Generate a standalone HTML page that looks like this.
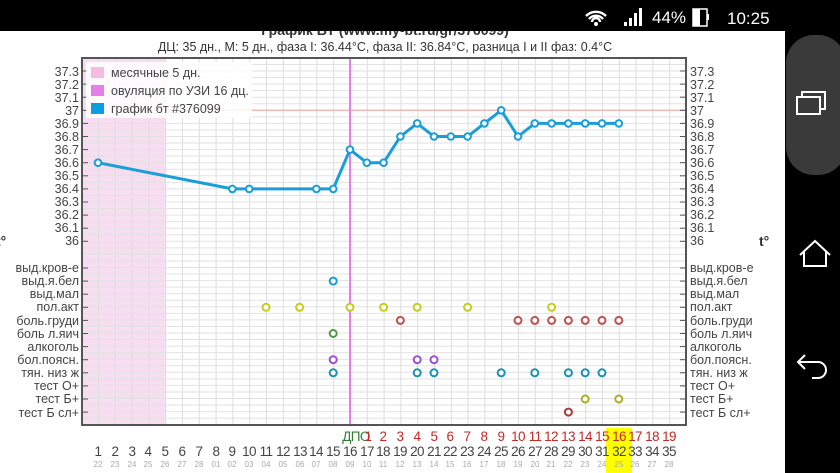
<!DOCTYPE html>
<html><head><meta charset="utf-8"><style>
body{margin:0;width:840px;height:473px;overflow:hidden;background:#fff;font-family:"Liberation Sans",sans-serif}
svg{position:absolute;left:0;top:0}
</style></head><body>
<svg id="s" width="840" height="473" xmlns="http://www.w3.org/2000/svg" font-family="Liberation Sans, sans-serif">
<rect x="0" y="0" width="840" height="473" fill="#fff"/>
<g id="grid"></g>
<text x="385" y="35" text-anchor="middle" font-size="14" font-weight="bold" fill="#333">График БТ (www.my-bt.ru/gr/376099)</text>
<text x="385" y="51" text-anchor="middle" font-size="12.5" fill="#333">ДЦ: 35 дн., М: 5 дн., фаза I: 36.44°C, фаза II: 36.84°C, разница I и II фаз: 0.4°C</text>
<g font-size="12.5" fill="#444" text-anchor="end" id="ll">
<text x="79" y="76">37.3</text><text x="79" y="89">37.2</text><text x="79" y="102">37.1</text><text x="79" y="115">37</text><text x="79" y="128">36.9</text><text x="79" y="141">36.8</text><text x="79" y="154">36.7</text><text x="79" y="167">36.6</text><text x="79" y="180">36.5</text><text x="79" y="193">36.4</text><text x="79" y="206">36.3</text><text x="79" y="219">36.2</text><text x="79" y="232">36.1</text><text x="79" y="245">36</text>
<text x="79" y="272">выд.кров-е</text><text x="79" y="285">выд.я.бел</text><text x="79" y="298">выд.мал</text><text x="79" y="311">пол.акт</text><text x="79" y="325">боль.груди</text><text x="79" y="338">боль л.яич</text><text x="79" y="351">алкоголь</text><text x="79" y="364">бол.поясн.</text><text x="79" y="377">тян. низ ж</text><text x="79" y="390">тест О+</text><text x="79" y="403">тест Б+</text><text x="79" y="417">тест Б сл+</text>
</g>
<g font-size="12.5" fill="#444" text-anchor="start">
<text x="690" y="76">37.3</text><text x="690" y="89">37.2</text><text x="690" y="102">37.1</text><text x="690" y="115">37</text><text x="690" y="128">36.9</text><text x="690" y="141">36.8</text><text x="690" y="154">36.7</text><text x="690" y="167">36.6</text><text x="690" y="180">36.5</text><text x="690" y="193">36.4</text><text x="690" y="206">36.3</text><text x="690" y="219">36.2</text><text x="690" y="232">36.1</text><text x="690" y="245">36</text>
<text x="690" y="272">выд.кров-е</text><text x="690" y="285">выд.я.бел</text><text x="690" y="298">выд.мал</text><text x="690" y="311">пол.акт</text><text x="690" y="325">боль.груди</text><text x="690" y="338">боль л.яич</text><text x="690" y="351">алкоголь</text><text x="690" y="364">бол.поясн.</text><text x="690" y="377">тян. низ ж</text><text x="690" y="390">тест О+</text><text x="690" y="403">тест Б+</text><text x="690" y="417">тест Б сл+</text>
</g>
<text x="-4" y="246" font-size="14" font-weight="bold" fill="#333">t°</text>
<text x="759" y="246" font-size="14" font-weight="bold" fill="#333">t°</text>
<rect x="606" y="428" width="26" height="45" fill="#ffff00"/>
<g font-size="13.5" text-anchor="middle" fill="#c62828" letter-spacing="-0.6">
<text x="356" y="441" fill="#2e7d32">ДПО</text>
<text x="368" y="441">1</text><text x="383" y="441">2</text><text x="400" y="441">3</text><text x="417" y="441">4</text><text x="434" y="441">5</text><text x="450" y="441">6</text><text x="467" y="441">7</text><text x="484" y="441">8</text><text x="501" y="441">9</text><text x="518" y="441">10</text><text x="535" y="441">11</text><text x="551" y="441">12</text><text x="568" y="441">13</text><text x="585" y="441">14</text><text x="602" y="441">15</text><text x="619" y="441">16</text><text x="635" y="441">17</text><text x="652" y="441">18</text><text x="669" y="441">19</text>
</g>
<g font-size="13.5" text-anchor="middle" fill="#444" letter-spacing="-0.6">
<text x="98" y="456">1</text><text x="115" y="456">2</text><text x="132" y="456">3</text><text x="148" y="456">4</text><text x="165" y="456">5</text><text x="182" y="456">6</text><text x="199" y="456">7</text><text x="216" y="456">8</text><text x="232" y="456">9</text><text x="249" y="456">10</text><text x="266" y="456">11</text><text x="283" y="456">12</text><text x="300" y="456">13</text><text x="316" y="456">14</text><text x="333" y="456">15</text><text x="350" y="456">16</text><text x="367" y="456">17</text><text x="383" y="456">18</text><text x="400" y="456">19</text><text x="417" y="456">20</text><text x="434" y="456">21</text><text x="450" y="456">22</text><text x="467" y="456">23</text><text x="484" y="456">24</text><text x="501" y="456">25</text><text x="518" y="456">26</text><text x="535" y="456">27</text><text x="551" y="456">28</text><text x="568" y="456">29</text><text x="585" y="456">30</text><text x="602" y="456">31</text><text x="619" y="456">32</text><text x="635" y="456">33</text><text x="652" y="456">34</text><text x="669" y="456">35</text>
</g>
<g font-size="8" text-anchor="middle" fill="#aaa">
<text x="98" y="467">22</text><text x="115" y="467">23</text><text x="132" y="467">24</text><text x="148" y="467">25</text><text x="165" y="467">26</text><text x="182" y="467">27</text><text x="199" y="467">28</text><text x="216" y="467">01</text><text x="232" y="467">02</text><text x="249" y="467">03</text><text x="266" y="467">04</text><text x="283" y="467">05</text><text x="300" y="467">06</text><text x="316" y="467">07</text><text x="333" y="467">08</text><text x="350" y="467">09</text><text x="367" y="467">10</text><text x="383" y="467">11</text><text x="400" y="467">12</text><text x="417" y="467">13</text><text x="434" y="467">14</text><text x="450" y="467">15</text><text x="467" y="467">16</text><text x="484" y="467">17</text><text x="501" y="467">18</text><text x="518" y="467">19</text><text x="535" y="467">20</text><text x="551" y="467">21</text><text x="568" y="467">22</text><text x="585" y="467">23</text><text x="602" y="467">24</text><text x="619" y="467">25</text><text x="635" y="467">26</text><text x="652" y="467">27</text><text x="669" y="467">28</text>
</g>
<g id="data"></g>
<g id="legend">
<rect x="86" y="62" width="166" height="56" fill="#fff" opacity="0.85"/>
<rect x="91" y="67" width="13" height="11" fill="#f8bbe0"/><text x="111" y="77" font-size="12.5" fill="#444">месячные 5 дн.</text>
<rect x="91" y="85" width="13" height="11" fill="#e57ee6"/><text x="111" y="95" font-size="12.5" fill="#444">овуляция по УЗИ 16 дц.</text>
<rect x="91" y="103" width="13" height="11" fill="#0a9ee0"/><text x="111" y="113" font-size="12.5" fill="#444">график бт #376099</text>
</g>
<rect x="0" y="0" width="840" height="31" fill="#000"/>
<rect x="785" y="0" width="55" height="473" fill="#000"/>
<rect x="786" y="35" width="60" height="140" rx="28" fill="#3a3a3a"/>
<g fill="none" stroke="#fff" stroke-width="2">
<rect x="797" y="97" width="23" height="17"/><path d="M802 97v-5h23v17h-5"/>
<path d="M800 255l15-14 15 14M804 252v14h22v-14"/>
<path d="M805 355l-7 7 7 7M798 362h20a8 8 0 0 1 0 16h-6"/>
</g>
<g fill="#fff" font-size="17">
<text x="652" y="23">44%</text>
<text x="727" y="24">10:25</text>
</g>
<rect x="693" y="9" width="14" height="17" fill="none" stroke="#fff" stroke-width="1.5"/><rect x="693" y="9" width="7" height="17" fill="#fff"/><rect x="707" y="14" width="2" height="6" fill="#fff"/>
<path d="M586 16a14 14 0 0 1 20 0M589 19a9 9 0 0 1 14 0M592 22a4 4 0 0 1 8 0" stroke="#fff" stroke-width="2.4" fill="none"/><circle cx="596" cy="24" r="2" fill="#fff"/>
<g fill="#fff"><rect x="624" y="22" width="3" height="4"/><rect x="629" y="18" width="3" height="8"/><rect x="634" y="13" width="3" height="13"/><rect x="639" y="8" width="3" height="18"/></g>
</svg>
<script>
var NS="http://www.w3.org/2000/svg";
function el(p,t,a){var e=document.createElementNS(NS,t);for(var k in a)e.setAttribute(k,a[k]);p.appendChild(e);return e;}
var g=document.getElementById('grid'),d=document.getElementById('data');
function X(n){return 98+(n-1)*16.8;}
function Y(t){return 71+(37.3-t)*131;}
function R(i){return 268+i*13.1;}
el(g,'rect',{x:82,y:58,width:84,height:367,fill:'#f7ddf0'});
for(var n=0;n<=36;n++){var x=X(n)+0.5;if(x>82&&x<686)el(g,'line',{x1:x,x2:x,y1:58,y2:425,stroke:'#ddd','stroke-width':1});}
for(var y=58+(Y(37.3)-58)%6.55;y<425;y+=6.55){el(g,'line',{x1:82,x2:686,y1:y,y2:y,stroke:'#e2e2e2','stroke-width':1});}
el(g,'line',{x1:82,x2:686,y1:Y(37),y2:Y(37),stroke:'#f6b8b8','stroke-width':1.5});
el(g,'line',{x1:350,x2:350,y1:58,y2:425,stroke:'#e57ee6','stroke-width':2});
el(g,'path',{d:'M82 58V425H686V58Z',fill:'none',stroke:'#555','stroke-width':2});
for(var t=0;t<=13;t++){var yy=Y(37.3-t*0.1);el(g,'line',{x1:82,x2:88,y1:yy,y2:yy,stroke:'#555'});el(g,'line',{x1:680,x2:686,y1:yy,y2:yy,stroke:'#555'});}
for(var i=0;i<12;i++){var yy=R(i);el(g,'line',{x1:82,x2:88,y1:yy,y2:yy,stroke:'#555'});el(g,'line',{x1:680,x2:686,y1:yy,y2:yy,stroke:'#555'});}
var T=[[1,36.6],[9,36.4],[10,36.4],[14,36.4],[15,36.4],[16,36.7],[17,36.6],[18,36.6],[19,36.8],[20,36.9],[21,36.8],[22,36.8],[23,36.8],[24,36.9],[25,37.0],[26,36.8],[27,36.9],[28,36.9],[29,36.9],[30,36.9],[31,36.9],[32,36.9]];
el(d,'polyline',{points:T.map(function(p){return X(p[0])+','+Y(p[1]);}).join(' '),fill:'none',stroke:'#1a9ed9','stroke-width':3,'stroke-linejoin':'round'});
T.forEach(function(p){el(d,'circle',{cx:X(p[0]),cy:Y(p[1]),r:3.3,fill:'#fff',stroke:'#1a9ed9','stroke-width':2});});
var M=[[1,[15],'#1a9ed9'],[3,[11,13,16,18,20,23,28],'#c4cc1e'],[4,[19,26,27,28,29,30,31,32],'#c0504d'],[5,[15],'#4a9a4a'],[7,[15,20,21],'#9b4fd6'],[8,[15,20,21,25,27,29,30,31],'#1a8fb8'],[10,[30,32],'#a9b020'],[11,[29],'#a83a3a']];
M.forEach(function(m){m[1].forEach(function(n){el(d,'circle',{cx:X(n),cy:R(m[0]),r:3.5,fill:'#fff',stroke:m[2],'stroke-width':2});});});
</script>
</body></html>
